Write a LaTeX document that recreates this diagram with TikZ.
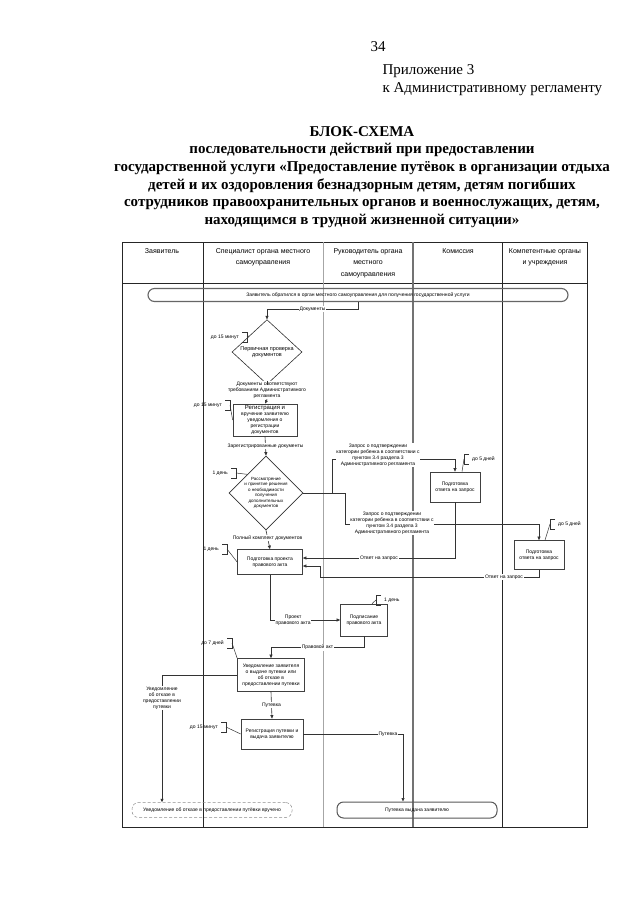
\documentclass[tikz,border=0pt]{standalone}
\usepackage{fontspec}
\setmainfont{Liberation Serif}
\setsansfont{Liberation Sans}
\usepackage{tikz}
\usetikzlibrary{arrows.meta,positioning,shapes.geometric,calc}

\tikzset{
  act/.style={draw=black!75, line width=0.7pt, align=center, inner sep=1pt},
  check/.style={diamond, draw=black!80, line width=0.6pt, align=center, inner sep=0pt},
  term/.style={draw=black!60, line width=1.1pt, rounded corners=6.5pt, inner sep=1pt},
  lbl/.style={fill=white, inner sep=0.8pt, align=center},
  note/.style={inner sep=1pt, minimum height=10pt},
  flow/.style={draw=black!80, line width=0.6pt},
  brk/.style={draw=black!80, line width=0.5pt},
  hd/.style={anchor=north, align=center, font=\sffamily\fontsize{7}{11.5}\selectfont}
}

\begin{document}
\begin{tikzpicture}[x=1pt,y=-1pt,>={Triangle[length=3.5pt,width=3pt]},
  font=\sffamily\fontsize{5}{6}\selectfont]
  \useasboundingbox[fill=white] (0,0) rectangle (640,905);

  % heading of the page
  \node[font=\rmfamily\fontsize{15}{18}\selectfont] (pg) at (378,47) {34};
  \node[anchor=west, align=left, font=\rmfamily\fontsize{15}{18}\selectfont] (app) at (379,80)
    {Приложение 3\\к Административному регламенту};
  \node[align=center, font=\rmfamily\bfseries\fontsize{15}{17.6}\selectfont] (ttl) at (362,177)
    {БЛОК-СХЕМА\\последовательности действий при предоставлении\\
     государственной услуги «Предоставление путёвок в организации отдыха\\
     детей и их оздоровления безнадзорным детям, детям погибших\\
     сотрудников правоохранительных органов и военнослужащих, детям,\\
     находящимся в трудной жизненной ситуации»};

  % lanes
  \draw[black!85, line width=0.8pt] (122,242) rectangle (587,827);
  \draw[black!85] (122,283) -- (587,283);
  \draw[black!85] (203,242) -- (203,827);
  \draw[black!35] (323,242) -- (323,827);
  \draw[black!55, line width=1.3pt] (413,242) -- (413,827);
  \draw[black!85] (502,242) -- (502,827);
  \node[hd] (h1) at (162,245) {Заявитель};
  \node[hd] (h2) at (263,245) {Специалист органа местного\\самоуправления};
  \node[hd] (h3) at (368,245) {Руководитель органа\\местного\\самоуправления};
  \node[hd] (h4) at (458,245) {Комиссия};
  \node[hd] (h5) at (545,245) {Компетентные органы\\и учреждения};

  % steps
  \node[term, minimum width=420pt, minimum height=13pt] (start) at (358,295)
    {Заявитель обратился в орган местного самоуправления для получения государственной услуги};
  \node[check, minimum width=70pt, minimum height=41pt, font=\sffamily\fontsize{5.5}{6.5}\selectfont] (d1) at (267,352)
    {Первичная проверка\\документов};
  \node[lbl] (t1) at (267,390) {Документы соответствуют\\требованиям Административного\\регламента};
  \node[act, minimum width=64pt, minimum height=32pt] (b1) at (265,420)
    {{\fontsize{6}{7}\selectfont Регистрация и}\\вручение заявителю\\уведомления о\\регистрации\\документов};
  \node[check, minimum width=64pt, minimum height=62pt, font=\sffamily\fontsize{4.5}{5.4}\selectfont] (d2) at (266,493)
    {Рассмотрение\\и принятие решения\\о необходимости\\получения\\дополнительных\\документов};
  \node[act, minimum width=50pt, minimum height=30pt] (q1) at (455,487) {Подготовка\\ответа на запрос};
  \node[act, minimum width=50pt, minimum height=29pt] (q2) at (539,555) {Подготовка\\ответа на запрос};
  \node[act, minimum width=65pt, minimum height=25pt] (b2) at (270,562) {Подготовка проекта\\правового акта};
  \node[act, minimum width=47pt, minimum height=32pt] (b3) at (364,620) {Подписание\\правового акта};
  \node[act, minimum width=67pt, minimum height=33pt] (b4) at (271,675)
    {Уведомление заявителя\\о выдаче путевки или\\об отказе в\\предоставлении путевки};
  \node[act, minimum width=62pt, minimum height=30pt] (b5) at (272,734) {Регистрация путевки и\\выдача заявителю};
  \node[term, draw=black!45, line width=0.5pt, densely dashed, minimum width=160pt, minimum height=15pt] (e1) at (212,810)
    {Уведомление об отказе в предоставлении путёвки вручено};
  \node[term, draw=black!65, line width=1pt, minimum width=160pt, minimum height=16pt] (e2) at (417,810)
    {Путевка выдана заявителю};

  % connectors
  \coordinate (j1) at (332,493);
  \coordinate (j2) at (345,493);
  \coordinate (j3) at (320,577);
  \coordinate (k1) at (162,675);
  \coordinate (k2) at (403,734);
  \draw[flow,->] (start.south) -- ++(0,7) -| node[lbl,pos=0.25] {Документы} (d1.north);
  \draw[flow] (d1.south) -- (t1.north);
  \draw[flow,->] (t1.south) -- (b1.north);
  \draw[flow,->] (b1.south) -- node[lbl] {Зарегистрированные документы} (d2.north);
  \draw[flow,->] (d2.east) -- (j1) |- ($(q1.north)+(0,-12)$) -- (q1.north);
  \node[lbl] (r1) at (378,455) {Запрос о подтверждении\\категории ребенка в соответствии с\\пунктом 3.4 раздела 3\\Административного регламента};
  \draw[flow,->] (d2.east) -- (j2) |- ($(q2.north)+(0,-16)$) -- (q2.north);
  \node[lbl] (r2) at (392,523) {Запрос о подтверждении\\категории ребенка в соответствии с\\пунктом 3.4 раздела 3\\Административного регламента};
  \draw[flow,->] (q1.south) |- node[lbl,pos=0.75] {Ответ на запрос} ($(b2.east)+(0,-4)$);
  \draw[flow,->] (q2.south) |- node[lbl,pos=0.58] {Ответ на запрос} (j3) |- ($(b2.east)+(0,4)$);
  \draw[flow,->] (d2.south) -- node[lbl,pos=0.4] {Полный комплект документов} (b2.north);
  \draw[flow,->] (b2.south) |- node[lbl,pos=0.665] {Проект\\правового акта} (b3.west);
  \draw[flow,->] (b3.south) -- ++(0,11) -| node[lbl,pos=0.25] {Правовой акт} (b4.north);
  \draw[flow,->] (b4.west) -| node[lbl,pos=0.59] {Уведомление\\об отказе в\\предоставлении\\путевки} (k1 |- e1.north);
  \draw[flow,->] (b4.south) -- node[lbl] {Путевка} (b5.north);
  \draw[flow,->] (b5.east) -| node[lbl,pos=0.425] {Путевка} (k2 |- e2.north);

  % time notes
  \node[note, anchor=east] (n1) at (240,337) {до 15 минут};
  \draw[brk] ([xshift=2]n1.north east) -- ++(5,0) |- ([xshift=2]n1.south east) coordinate[pos=0.25] (n1b);
  \draw[brk] (n1b) -- (d1.north west);
  \node[note, anchor=east] (n2) at (223,405) {до 15 минут};
  \draw[brk] ([xshift=2]n2.north east) -- ++(5,0) |- ([xshift=2]n2.south east) coordinate[pos=0.25] (n2b);
  \draw[brk] (n2b) -- (b1.west);
  \node[note, anchor=east] (n3) at (229,473) {1 день};
  \draw[brk] ([xshift=2]n3.north east) -- ++(5,0) |- ([xshift=2]n3.south east) coordinate[pos=0.25] (n3b);
  \draw[brk] (n3b) -- (d2.north west);
  \node[note, anchor=west] (n4) at (471,459) {до 5 дней};
  \draw[brk] ([xshift=-2]n4.north west) -- ++(-5,0) |- ([xshift=-2]n4.south west) coordinate[pos=0.25] (n4b);
  \draw[brk] (n4b) -- ([xshift=7]q1.north);
  \node[note, anchor=west] (n5) at (557,524) {до 5 дней};
  \draw[brk] ([xshift=-2]n5.north west) -- ++(-5,0) |- ([xshift=-2]n5.south west) coordinate[pos=0.25] (n5b);
  \draw[brk] (n5b) -- ([xshift=6]q2.north);
  \node[note, anchor=east] (n6) at (220,549) {1 день};
  \draw[brk] ([xshift=2]n6.north east) -- ++(5,0) |- ([xshift=2]n6.south east) coordinate[pos=0.25] (n6b);
  \draw[brk] (n6b) -- (b2.west);
  \node[note, anchor=west] (n7) at (383,600) {1 день};
  \draw[brk] ([xshift=-2]n7.north west) -- ++(-5,0) |- ([xshift=-2]n7.south west) coordinate[pos=0.25] (n7b);
  \draw[brk] (n7b) -- ([xshift=8]b3.north);
  \node[note, anchor=east] (n8) at (225,643) {до 7 дней};
  \draw[brk] ([xshift=2]n8.north east) -- ++(5,0) |- ([xshift=2]n8.south east) coordinate[pos=0.25] (n8b);
  \draw[brk] (n8b) -- (b4.north west);
  \node[note, anchor=east] (n9) at (219,727) {до 15 минут};
  \draw[brk] ([xshift=2]n9.north east) -- ++(5,0) |- ([xshift=2]n9.south east) coordinate[pos=0.25] (n9b);
  \draw[brk] (n9b) -- (b5.west);
\end{tikzpicture}
\end{document}
